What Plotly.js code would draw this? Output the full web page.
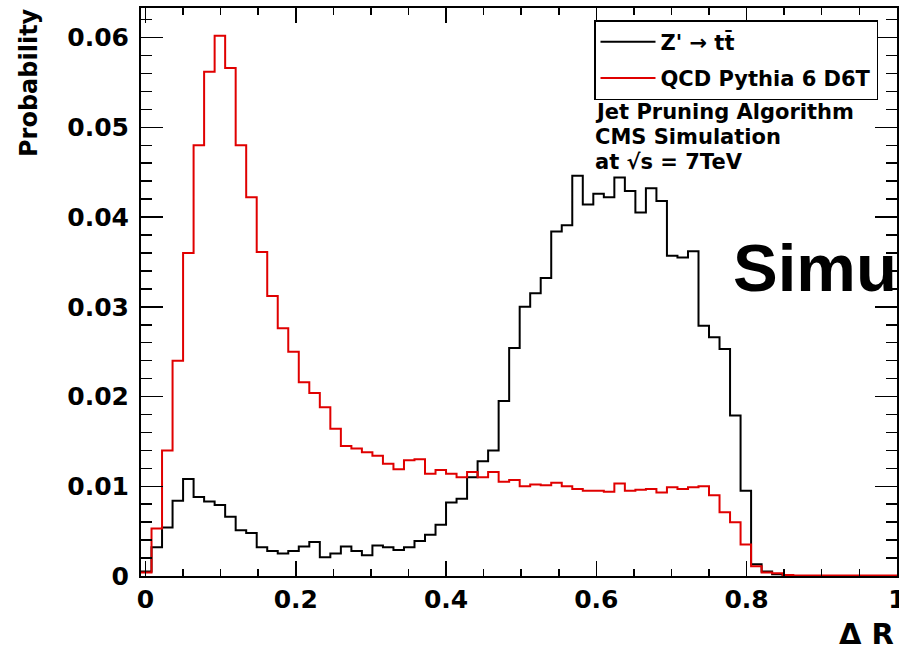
<!DOCTYPE html>
<html>
<head>
<meta charset="utf-8">
<script src="https://cdn.plot.ly/plotly-3.0.1.min.js"></script>
<style>
html, body { margin: 0; padding: 0; overflow: hidden; background: #fff; }
#chart { width: 899px; height: 650px; }
</style>
</head>
<body>
<div id="chart"></div>
<script>
// ---- data ----
const binStart = -0.006;   // left edge of first bin (Delta R)
const binWidth = 0.014;    // bin width (Delta R)

// Z' -> t tbar (black)
const zprimeValues = [
  0.0005, 0.0032, 0.0054, 0.0084, 0.0108, 0.0088, 0.0083, 0.0079, 0.0066, 0.0051,
  0.0048, 0.0032, 0.0028, 0.0025, 0.0028, 0.0033, 0.0038, 0.0021, 0.0025, 0.0033,
  0.0028, 0.0023, 0.0034, 0.0032, 0.0029, 0.0032, 0.0039, 0.0046, 0.0057, 0.0082,
  0.0086, 0.0110, 0.0128, 0.0140, 0.0195, 0.0254, 0.0300, 0.0315, 0.0332, 0.0384,
  0.0391, 0.0446, 0.0414, 0.0426, 0.0422, 0.0444, 0.0429, 0.0405, 0.0432, 0.0418,
  0.0357, 0.0355, 0.0362, 0.0279, 0.0266, 0.0253, 0.0179, 0.0095, 0.0013, 0.0005,
  0.0002, 0.0001, 0, 0, 0, 0, 0, 0, 0, 0, 0, 0
];

// QCD Pythia 6 D6T (red)
const qcdValues = [
  0.0004, 0.0053, 0.0140, 0.0240, 0.0360, 0.0480, 0.0562, 0.0602, 0.0566, 0.0480,
  0.0422, 0.0361, 0.0312, 0.0276, 0.0250, 0.0216, 0.0204, 0.0188, 0.0164, 0.0145,
  0.0142, 0.0138, 0.0134, 0.0125, 0.0119, 0.0129, 0.0130, 0.0114, 0.0118, 0.0114,
  0.0110, 0.0116, 0.0110, 0.0116, 0.0105, 0.0107, 0.0100, 0.0102, 0.0101, 0.0104,
  0.0100, 0.0097, 0.0095, 0.0095, 0.0094, 0.0103, 0.0095, 0.0096, 0.0097, 0.0093,
  0.0099, 0.0097, 0.0099, 0.0100, 0.0090, 0.0071, 0.0060, 0.0035, 0.0011, 0.0004,
  0.0003, 0.0001, 0.00005, 0.00005, 0.00005, 0.00005, 0.00005, 0.00005, 0.00005, 0.00005, 0.00005, 0.00005
];

const seriesNames = ["Z' \u2192 tt\u0304", "QCD Pythia 6 D6T"];
const xTickVals = [0, 0.2, 0.4, 0.6, 0.8, 1];
const yTickVals = [0, 0.01, 0.02, 0.03, 0.04, 0.05, 0.06];

// ---- build step outlines (bin edges, last value repeated) ----
function stepX(vals) {
  const xs = [];
  for (let i = 0; i <= vals.length; i++) xs.push(binStart + i * binWidth);
  return xs;
}
function stepY(vals) { return vals.concat([vals[vals.length - 1]]); }

const W = 899, H = 650;
const M = { l: 141, r: 2, t: 8, b: 74 };
const px2x = p => (p - M.l) / (W - M.l - M.r);
const px2y = p => (H - M.b - p) / (H - M.t - M.b);

const FB = { family: 'DejaVu Sans, Liberation Sans, sans-serif', weight: 'bold', color: '#000' };

const traces = [
  {
    type: 'scatter', mode: 'lines', name: seriesNames[0], legendgroup: 'a',
    x: stepX(zprimeValues), y: stepY(zprimeValues),
    line: { shape: 'hv', color: '#000000', width: 2 }
  },
  {
    type: 'scatter', mode: 'lines', name: seriesNames[1], legendgroup: 'b',
    x: stepX(qcdValues), y: stepY(qcdValues),
    line: { shape: 'hv', color: '#e00000', width: 2 }
  }
];

const layout = {
  width: W, height: H,
  margin: M,
  paper_bgcolor: '#fff', plot_bgcolor: '#fff',
  showlegend: true,
  legend: {
    x: px2x(594), y: px2y(20), xanchor: 'left', yanchor: 'top',
    bgcolor: '#fff', bordercolor: '#000', borderwidth: 1.5,
    font: Object.assign({}, FB, { size: 21 }),
    tracegroupgap: 6, itemwidth: 55
  },
  xaxis: {
    range: [binStart, 1.0002],
    tickvals: xTickVals,
    ticks: 'inside', ticklen: 15, tickwidth: 1.5, tickcolor: '#000',
    minor: { dtick: 0.05, tick0: 0, ticks: 'inside', ticklen: 7, tickwidth: 1.5, tickcolor: '#000' },
    showline: true, linewidth: 2, linecolor: '#000', mirror: 'allticks',
    showgrid: false, zeroline: false,
    tickfont: Object.assign({}, FB, { size: 25 }),
    ticklabelstandoff: 0,
    ticklabeloverflow: 'allow'
  },
  yaxis: {
    range: [0, 0.0633],
    tickvals: yTickVals,
    ticks: 'inside', ticklen: 22, tickwidth: 1.5, tickcolor: '#000',
    minor: { dtick: 0.002, tick0: 0, ticks: 'inside', ticklen: 11, tickwidth: 1.5, tickcolor: '#000' },
    showline: true, linewidth: 2, linecolor: '#000', mirror: 'allticks',
    showgrid: false, zeroline: false,
    tickfont: Object.assign({}, FB, { size: 25 }),
    ticklabelstandoff: 5
  },
  annotations: [
    { text: 'Jet Pruning Algorithm', xref: 'paper', yref: 'paper', x: px2x(594), y: px2y(112),
      xanchor: 'left', yanchor: 'middle', showarrow: false, borderpad: 0, font: Object.assign({}, FB, { size: 21 }) },
    { text: 'CMS Simulation', xref: 'paper', yref: 'paper', x: px2x(594), y: px2y(137),
      xanchor: 'left', yanchor: 'middle', showarrow: false, borderpad: 0, font: Object.assign({}, FB, { size: 21 }) },
    { text: 'at \u221As = 7TeV', xref: 'paper', yref: 'paper', x: px2x(594), y: px2y(162),
      xanchor: 'left', yanchor: 'middle', showarrow: false, borderpad: 0, font: Object.assign({}, FB, { size: 21 }) },
    { text: 'Simu', xref: 'paper', yref: 'paper', x: px2x(731), y: px2y(267.5),
      xanchor: 'left', yanchor: 'middle', showarrow: false,
      font: { family: 'Liberation Sans, Arial, sans-serif', weight: 'bold', size: 67, color: '#000' } },
    { text: '\u0394 R', xref: 'paper', yref: 'paper', x: px2x(896), y: px2y(634),
      xanchor: 'right', yanchor: 'middle', showarrow: false, font: Object.assign({}, FB, { size: 29 }) },
    { text: 'Probability', xref: 'paper', yref: 'paper', x: px2x(29), y: px2y(83),
      xanchor: 'center', yanchor: 'middle', textangle: -90, showarrow: false,
      font: Object.assign({}, FB, { size: 24 }) }
  ]
};

Plotly.newPlot('chart', traces, layout, { displayModeBar: false, staticPlot: true });
</script>
</body>
</html>
